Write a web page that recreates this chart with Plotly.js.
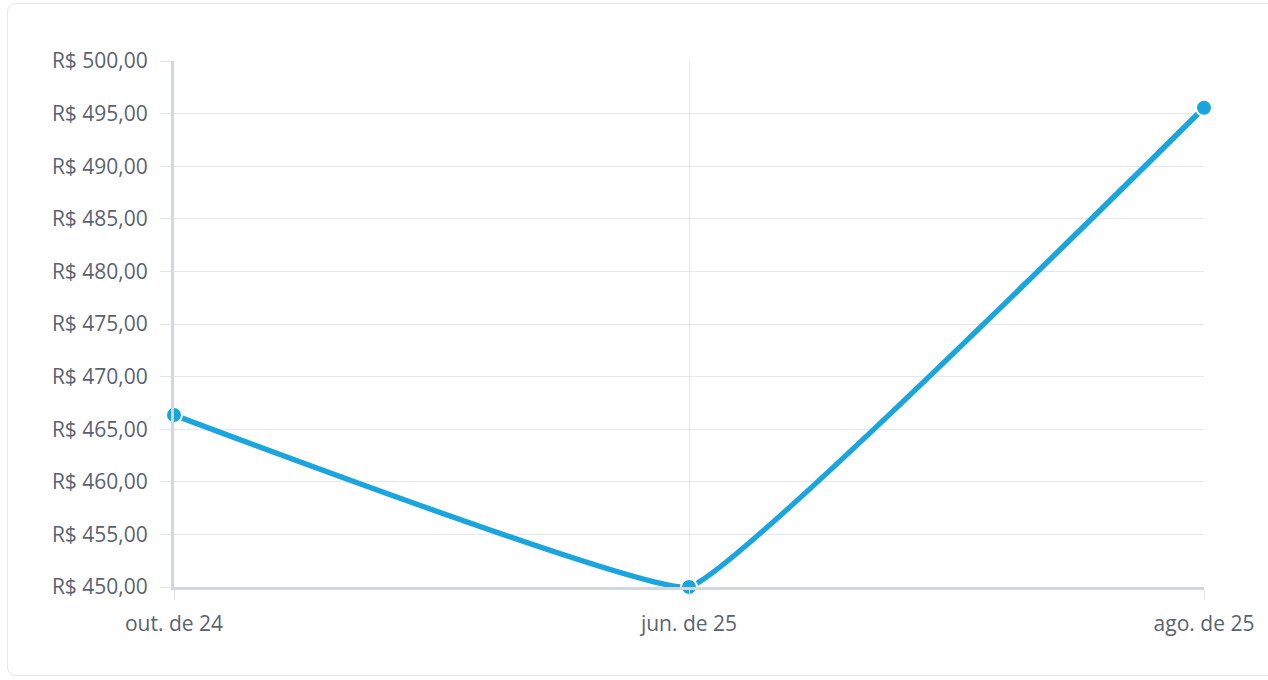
<!DOCTYPE html>
<html>
<head>
<meta charset="utf-8">
<script src="https://cdn.plot.ly/plotly-3.0.1.min.js"></script>
<style>
  html, body { margin: 0; padding: 0; background: #ffffff; overflow: hidden; }
  #card { position: absolute; left: 7px; top: 3px; width: 1280px; height: 673px;
          border: 1px solid #e4e7eb; border-radius: 9px; box-sizing: border-box; }
  #chart { position: absolute; left: 0; top: 0; width: 1268px; height: 680px; }
</style>
</head>
<body>
<div id="card"></div>
<div id="chart"></div>
<script>
const categories = ['out. de 24', 'jun. de 25', 'ago. de 25'];
const values = [466.35, 450.0, 495.55];
const yTickValues = [450, 455, 460, 465, 470, 475, 480, 485, 490, 495, 500];
const yTickLabels = ['R$ 450,00', 'R$ 455,00', 'R$ 460,00', 'R$ 465,00', 'R$ 470,00',
  'R$ 475,00', 'R$ 480,00', 'R$ 485,00', 'R$ 490,00', 'R$ 495,00', 'R$ 500,00'];

const trace = {
  x: categories,
  y: values,
  type: 'scatter',
  mode: 'lines+markers',
  line: { color: '#1ba5df', width: 5.5, shape: 'spline', smoothing: 0.22 },
  marker: { color: '#1ba5df', size: 16, line: { color: '#ffffff', width: 2 } },
  cliponaxis: false,
  hoverinfo: 'skip'
};

const layout = {
  width: 1268,
  height: 680,
  margin: { l: 174, r: 64, t: 61, b: 93 },
  paper_bgcolor: 'rgba(0,0,0,0)',
  plot_bgcolor: 'rgba(0,0,0,0)',
  showlegend: false,
  font: { family: 'Open Sans, sans-serif', size: 21, color: '#5b6370' },
  xaxis: {
    type: 'category',
    range: [0, 2],
    showgrid: true,
    gridcolor: '#e4e7eb',
    gridwidth: 1,
    showline: true,
    linecolor: '#d2d7dd',
    linewidth: 3,
    ticks: 'outside',
    ticklen: 10,
    tickcolor: '#e1e4e8',
    tickwidth: 1,
    ticklabelstandoff: 6,
    tickfont: { family: 'Open Sans, sans-serif', size: 21, color: '#5b6370' },
    zeroline: false,
    fixedrange: true
  },
  yaxis: {
    range: [450, 500],
    tickvals: yTickValues,
    ticktext: yTickLabels,
    showgrid: true,
    gridcolor: '#e4e7eb',
    gridwidth: 1,
    showline: true,
    linecolor: '#d2d7dd',
    linewidth: 3,
    ticks: 'outside',
    ticklen: 11,
    tickcolor: '#e1e4e8',
    tickwidth: 1,
    ticklabelstandoff: 8,
    tickfont: { family: 'Open Sans, sans-serif', size: 21, color: '#5b6370' },
    zeroline: false,
    fixedrange: true
  }
};

Plotly.newPlot('chart', [trace], layout, { displayModeBar: false, staticPlot: true });
</script>
</body>
</html>
